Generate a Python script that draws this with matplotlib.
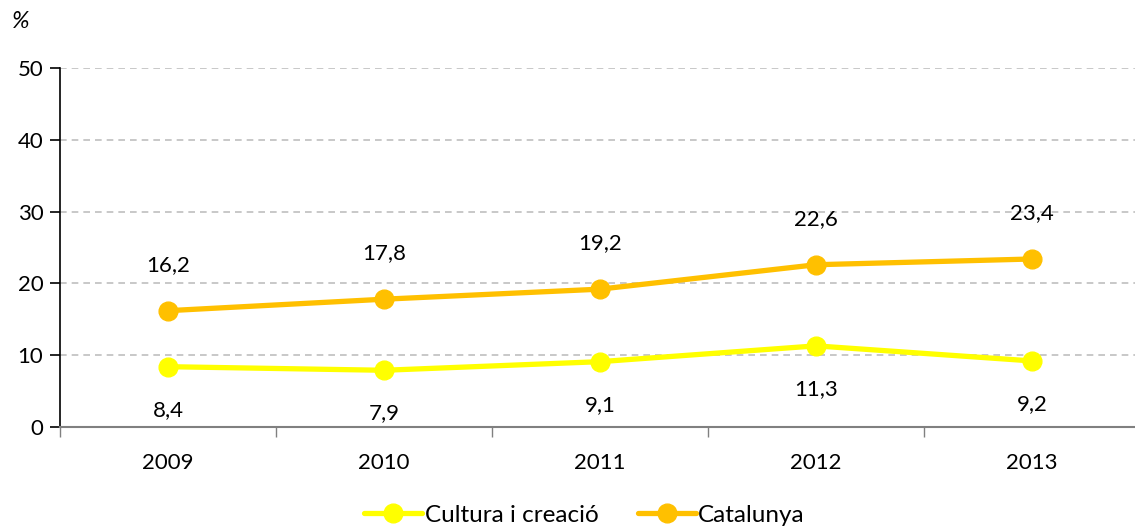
import matplotlib
matplotlib.use("Agg")
import matplotlib.pyplot as plt
from matplotlib.ticker import FixedLocator

anys = ["2009", "2010", "2011", "2012", "2013"]
cultura = [8.4, 7.9, 9.1, 11.3, 9.2]
catalunya = [16.2, 17.8, 19.2, 22.6, 23.4]

plt.rcParams['font.family'] = ['Lato', 'DejaVu Sans']

fig = plt.figure(figsize=(11.35, 5.32), dpi=100)
ax = fig.add_axes([60 / 1135, 1 - 427 / 532, 1 - 60 / 1135, (427 - 68) / 532])

x = list(range(len(anys)))
ax.plot(x, cultura, color="#FFFF00", lw=3.8, marker="o", ms=13.5, label="Cultura i creació",
        solid_capstyle="round", zorder=3)
ax.plot(x, catalunya, color="#FFC000", lw=3.8, marker="o", ms=13.5, label="Catalunya",
        solid_capstyle="round", zorder=3)

# etiquetes de dades
for xi, v in zip(x, catalunya):
    ax.annotate(f"{v:.1f}".replace(".", ","), (xi, v), xytext=(0, 33), textcoords="offset points",
                ha="center", va="center", fontsize=16)
for xi, v in zip(x, cultura):
    ax.annotate(f"{v:.1f}".replace(".", ","), (xi, v), xytext=(0, -31), textcoords="offset points",
                ha="center", va="center", fontsize=16)

ax.set_ylim(0, 50)
ax.set_yticks(range(0, 51, 10))
ax.set_xlim(-0.5, -0.5 + (1135 - 60) / 216)
ax.set_xticks(x)
ax.set_xticklabels(anys)
ax.xaxis.set_minor_locator(FixedLocator([i - 0.5 for i in range(6)]))
ax.tick_params(axis="x", which="major", length=0, pad=19, labelsize=16)
ax.tick_params(axis="x", which="minor", length=7, color="#808080", width=1)
ax.tick_params(axis="y", length=7, width=1.2, labelsize=16, pad=5)

ax.grid(axis="y", color="#BFBFBF", ls=(0, (4, 3)), lw=1.2)
ax.set_axisbelow(True)
ax.spines["top"].set_visible(False)
ax.spines["right"].set_visible(False)
ax.spines["left"].set_linewidth(1.2)
ax.spines["bottom"].set_color("#808080")
ax.spines["bottom"].set_linewidth(1.5)

fig.text(12 / 1135, 1 - 22 / 532, "%", fontsize=17, style="italic", va="center")

fig.legend(loc="center", bbox_to_anchor=(0.515, 1 - 515 / 532), ncol=2, frameon=False,
           fontsize=17.5, handlelength=2.4, handletextpad=0.1, columnspacing=1.6)

fig.savefig("out.png", dpi=100)
